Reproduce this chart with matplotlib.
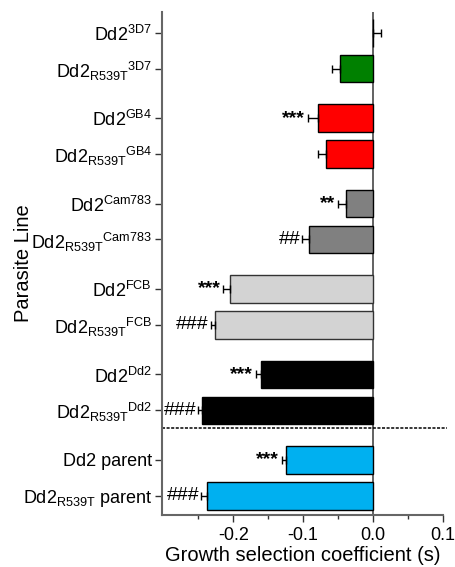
import matplotlib.pyplot as plt
import matplotlib.transforms as mtransforms
from matplotlib.lines import Line2D

plt.rcParams['font.family'] = ['Liberation Sans', 'DejaVu Sans']
plt.rcParams['mathtext.fontset'] = 'custom'
plt.rcParams['mathtext.rm'] = 'Liberation Sans'
plt.rcParams['mathtext.it'] = 'Liberation Sans'

# Data (top to bottom)
labels = [
    r'Dd2$^{\mathrm{3D7}}$',
    r'Dd2$_{\mathrm{R539T}}{}^{\mathrm{3D7}}$',
    r'Dd2$^{\mathrm{GB4}}$',
    r'Dd2$_{\mathrm{R539T}}{}^{\mathrm{GB4}}$',
    r'Dd2$^{\mathrm{Cam783}}$',
    r'Dd2$_{\mathrm{R539T}}{}^{\mathrm{Cam783}}$',
    r'Dd2$^{\mathrm{FCB}}$',
    r'Dd2$_{\mathrm{R539T}}{}^{\mathrm{FCB}}$',
    r'Dd2$^{\mathrm{Dd2}}$',
    r'Dd2$_{\mathrm{R539T}}{}^{\mathrm{Dd2}}$',
    'Dd2 parent',
    r'Dd2$_{\mathrm{R539T}}$ parent',
]
values = [0.0, -0.048, -0.079, -0.068, -0.038, -0.091, -0.205, -0.226, -0.160, -0.245, -0.124, -0.238]
errors = [0.012, 0.011, 0.014, 0.011, 0.012, 0.010, 0.009, 0.006, 0.0075, 0.005, 0.0066, 0.0075]
signif = ['', '', '***', '', '**', '##', '***', '###', '***', '###', '***', '###']
colors = ['#008000', '#008000', '#ff0000', '#ff0000', '#808080', '#808080',
          '#d3d3d3', '#d3d3d3', '#000000', '#000000', '#00b0f0', '#00b0f0']

# positions: pairs with a gap between groups
pos = []
for g in range(6):
    pos.append(g * 2.38)
    pos.append(g * 2.38 + 1)

fig = plt.figure(figsize=(4.56, 5.67), dpi=100)
ax = fig.add_axes([0.355, 0.092, 0.6165, 0.887])

edges = ['#333333' if c == '#d3d3d3' else 'black' for c in colors]
ax.barh(pos, values, height=0.77, color=colors, edgecolor=edges, linewidth=1, zorder=2)

for p, v, e, s in zip(pos, values, errors, signif):
    if v >= 0:
        xerr = [[0], [e]]
        tip = v + e
    else:
        xerr = [[e], [0]]
        tip = v - e
    ax.errorbar(v, p, xerr=xerr, fmt='none', ecolor='black', elinewidth=1,
                capsize=3, capthick=1, zorder=3)
    if s:
        if s.startswith('*'):
            ax.text(tip - 0.004, p, s, ha='right', va='center', fontsize=14,
                    fontweight='bold')
        else:
            ax.text(tip - 0.003, p, s, ha='right', va='center', fontsize=14)

# zero line
ax.axvline(0, color='#555555', linewidth=1.3, zorder=1)

# dotted separator, runs a bit past the right edge
sep = Line2D([0, 1.015], [11.0, 11.0], transform=ax.get_yaxis_transform(),
             color='black', linestyle=(0, (2, 1)), linewidth=1.1, clip_on=False)
ax.add_line(sep)

ax.set_ylim(13.43, -0.58)
ax.set_xlim(-0.302, 0.1)
ax.set_yticks(pos)
ax.set_yticklabels(labels, fontsize=13)
ax.set_xticks([-0.2, -0.1, 0.0, 0.1])
ax.set_xticklabels(['-0.2', '-0.1', '0.0', '0.1'], fontsize=13)
ax.set_xticks([-0.25, -0.15, -0.05, 0.05], minor=True)

# nudge the superscripted labels down a little
for lab, txt in zip(ax.get_yticklabels(), labels):
    if '^' in txt:
        dy = -3 if '_' in txt else -4
        lab.set_transform(lab.get_transform() +
                          mtransforms.ScaledTranslation(0, dy / 100, fig.dpi_scale_trans))

ax.spines['top'].set_visible(False)
ax.spines['right'].set_visible(False)
for sp in ['left', 'bottom']:
    ax.spines[sp].set_color('#666666')
    ax.spines[sp].set_linewidth(1.5)
ax.tick_params(axis='y', which='major', length=5, width=1, color='#333333', pad=2)
ax.tick_params(axis='x', which='major', length=5, width=1, color='#333333', pad=4)
ax.tick_params(axis='x', which='minor', length=3, width=1, color='#333333')

ax.set_xlabel('Growth selection coefficient (s)', fontsize=14.5, labelpad=1)
ax.set_ylabel('Parasite Line', fontsize=14.5)
ax.yaxis.set_label_coords(-0.46, 0.5)

plt.savefig('out.png', dpi=100)
